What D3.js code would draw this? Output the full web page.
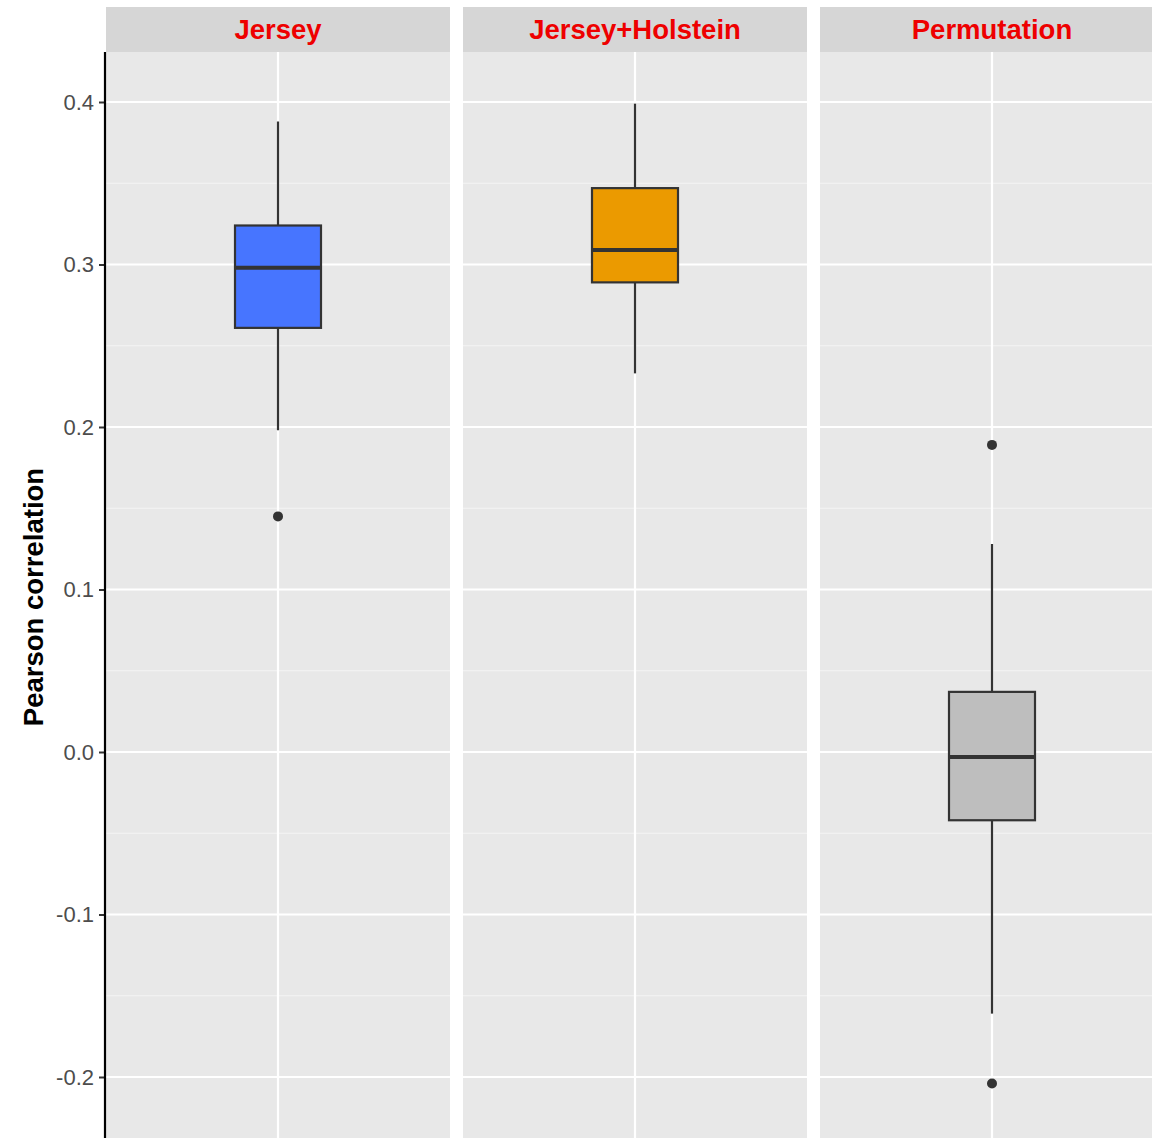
<!DOCTYPE html>
<html>
<head>
<meta charset="utf-8">
<script src="https://cdn.jsdelivr.net/npm/d3@7"></script>
<style>
  html, body { margin: 0; padding: 0; background: #ffffff; }
  svg { display: block; font-family: "Liberation Sans", Arial, Helvetica, sans-serif; }
</style>
</head>
<body>
<svg id="chart" width="1152" height="1138"></svg>
<script>
// Facet panels and box-plot summary statistics (Pearson correlation)
const categories = ["Jersey", "Jersey+Holstein", "Permutation"];
const lowerWhisker = [0.198, 0.233, -0.161];
const q1 = [0.261, 0.289, -0.042];
const median = [0.298, 0.309, -0.003];
const q3 = [0.324, 0.347, 0.037];
const upperWhisker = [0.388, 0.399, 0.128];
const outliers = [[0.145], [], [0.189, -0.204]];
const fillColors = ["#4775FF", "#EB9A00", "#BEBEBE"];

const yTicks = [-0.2, -0.1, 0.0, 0.1, 0.2, 0.3, 0.4];
const yTickLabels = ["-0.2", "-0.1", "0.0", "0.1", "0.2", "0.3", "0.4"];
const yMinor = [-0.15, -0.05, 0.05, 0.15, 0.25, 0.35];
const yTitle = "Pearson correlation";

const W = 1152, H = 1138;
const stripTop = 7, panelTop = 52, panelBottom = H;

const svg = d3.select("#chart");

const y = d3.scaleLinear().domain([-0.2, 0.4]).range([1077, 102]);

const panelX = d3.scaleBand()
  .domain(categories)
  .range([106, 1164])
  .paddingInner(13 / 357)
  .paddingOuter(0);

const bw = panelX.bandwidth();
const boxW = bw * 0.25;

const rows = categories.map((c, i) => ({
  cat: c,
  lo: lowerWhisker[i], q1: q1[i], med: median[i], q3: q3[i], hi: upperWhisker[i],
  out: outliers[i], fill: fillColors[i]
}));

const panels = svg.selectAll("g.panel")
  .data(rows)
  .join("g")
  .attr("class", "panel")
  .attr("transform", d => `translate(${panelX(d.cat)},0)`);

// strip
panels.append("rect")
  .attr("x", 0).attr("y", stripTop)
  .attr("width", bw).attr("height", panelTop - stripTop)
  .attr("fill", "#D6D6D6");

panels.append("text")
  .attr("x", bw / 2).attr("y", 39)
  .attr("text-anchor", "middle")
  .attr("font-size", 27.5)
  .attr("font-weight", "bold")
  .attr("fill", "#EE0000")
  .text(d => d.cat);

// panel background
panels.append("rect")
  .attr("x", 0).attr("y", panelTop)
  .attr("width", bw).attr("height", panelBottom - panelTop)
  .attr("fill", "#E8E8E8");

// minor grid
panels.selectAll("line.minor")
  .data(yMinor)
  .join("line")
  .attr("class", "minor")
  .attr("x1", 0).attr("x2", bw)
  .attr("y1", v => y(v)).attr("y2", v => y(v))
  .attr("stroke", "#F4F4F4").attr("stroke-width", 1.1);

// major grid
panels.selectAll("line.major")
  .data(yTicks)
  .join("line")
  .attr("class", "major")
  .attr("x1", 0).attr("x2", bw)
  .attr("y1", v => y(v)).attr("y2", v => y(v))
  .attr("stroke", "#FFFFFF").attr("stroke-width", 2.2);

// vertical grid at category
panels.append("line")
  .attr("x1", bw / 2).attr("x2", bw / 2)
  .attr("y1", panelTop).attr("y2", panelBottom)
  .attr("stroke", "#FFFFFF").attr("stroke-width", 2.2);

// whiskers
panels.append("line")
  .attr("x1", bw / 2).attr("x2", bw / 2)
  .attr("y1", d => y(d.hi)).attr("y2", d => y(d.q3))
  .attr("stroke", "#333333").attr("stroke-width", 2.2);
panels.append("line")
  .attr("x1", bw / 2).attr("x2", bw / 2)
  .attr("y1", d => y(d.q1)).attr("y2", d => y(d.lo))
  .attr("stroke", "#333333").attr("stroke-width", 2.2);

// box
panels.append("rect")
  .attr("x", bw / 2 - boxW / 2)
  .attr("width", boxW)
  .attr("y", d => y(d.q3))
  .attr("height", d => y(d.q1) - y(d.q3))
  .attr("fill", d => d.fill)
  .attr("stroke", "#333333").attr("stroke-width", 2.2);

// median
panels.append("line")
  .attr("x1", bw / 2 - boxW / 2).attr("x2", bw / 2 + boxW / 2)
  .attr("y1", d => y(d.med)).attr("y2", d => y(d.med))
  .attr("stroke", "#333333").attr("stroke-width", 4);

// outliers
panels.selectAll("circle.out")
  .data(d => d.out)
  .join("circle")
  .attr("class", "out")
  .attr("cx", bw / 2)
  .attr("cy", v => y(v))
  .attr("r", 5)
  .attr("fill", "#333333");

// y axis
const axisX = 105;
const yAxis = d3.axisLeft(y)
  .tickValues(yTicks)
  .tickFormat((v, i) => yTickLabels[i])
  .tickSize(6)
  .tickPadding(5);

const gAxis = svg.append("g")
  .attr("transform", `translate(${axisX},0)`)
  .call(yAxis);
gAxis.select(".domain").remove();
gAxis.selectAll(".tick line").attr("stroke", "#333333").attr("stroke-width", 2);
gAxis.selectAll(".tick text")
  .attr("fill", "#4D4D4D")
  .attr("font-size", 22)
  .attr("font-family", "'Liberation Sans', Arial, sans-serif");

svg.append("line")
  .attr("x1", axisX).attr("x2", axisX)
  .attr("y1", panelTop).attr("y2", panelBottom)
  .attr("stroke", "#000000").attr("stroke-width", 2.2);

// y title
svg.append("text")
  .attr("transform", `translate(43,${(panelTop + panelBottom) / 2 + 2}) rotate(-90)`)
  .attr("text-anchor", "middle")
  .attr("font-size", 27.5)
  .attr("font-weight", "bold")
  .attr("fill", "#000000")
  .text(yTitle);
</script>
</body>
</html>
